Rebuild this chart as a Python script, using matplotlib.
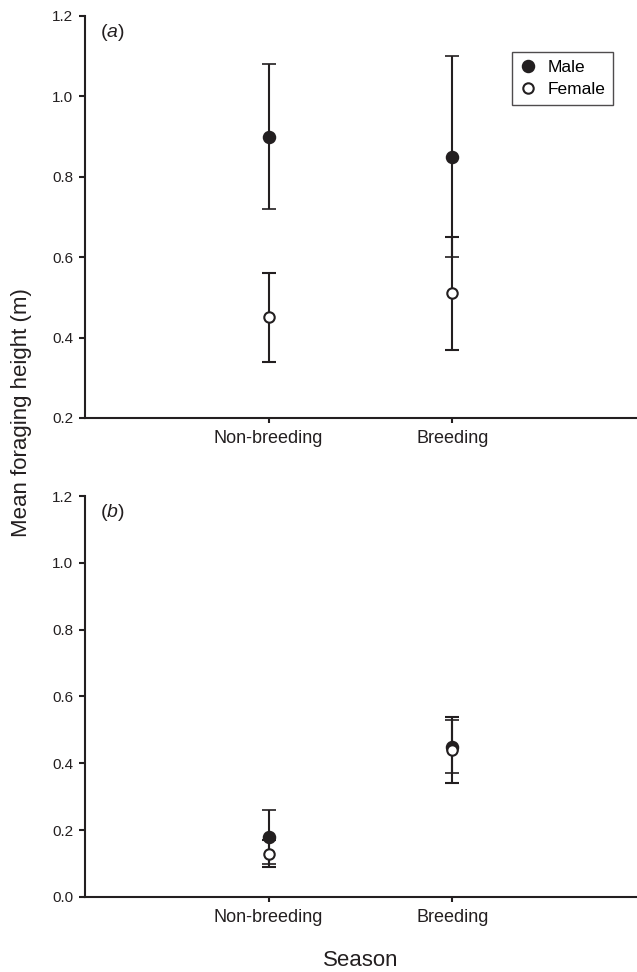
import matplotlib
matplotlib.use('Agg')
import matplotlib.pyplot as plt

plt.rcParams['font.family'] = ['Liberation Sans', 'DejaVu Sans']
plt.rcParams['mathtext.fontset'] = 'custom'
plt.rcParams['mathtext.rm'] = 'Liberation Sans'
plt.rcParams['mathtext.it'] = 'Liberation Sans:italic'

ink = '#231f20'

seasons = ['Non-breeding', 'Breeding']
xpos = [1, 2]

# panel (a)
a_male_mean = [0.90, 0.85]
a_male_se = [0.18, 0.25]
a_female_mean = [0.45, 0.51]
a_female_se = [0.11, 0.14]

# panel (b)
b_male_mean = [0.18, 0.45]
b_male_se = [0.08, 0.08]
b_female_mean = [0.13, 0.44]
b_female_se = [0.04, 0.10]

a_yticks = [0.2, 0.4, 0.6, 0.8, 1.0, 1.2]
b_yticks = [0.0, 0.2, 0.4, 0.6, 0.8, 1.0, 1.2]

fig = plt.figure(figsize=(6.37, 9.72), dpi=100)
ax1 = fig.add_axes([0.1334, 0.5700, 0.865, 0.4136])
ax2 = fig.add_axes([0.1334, 0.0772, 0.865, 0.4125])


def draw_panel(ax, male_mean, male_se, female_mean, female_se, yticks, tag):
    ax.errorbar(xpos, male_mean, yerr=male_se, fmt='o', color=ink,
                mfc=ink, mec=ink, ms=8.5, mew=1.2, capsize=5,
                elinewidth=1.5, capthick=1.5, label='Male', zorder=3)
    ax.errorbar(xpos, female_mean, yerr=female_se, fmt='o', color=ink,
                mfc='white', mec=ink, ms=7.5, mew=1.5, capsize=5,
                elinewidth=1.5, capthick=1.5, label='Female', zorder=4)
    ax.set_xlim(0, 3)
    ax.set_ylim(yticks[0], yticks[-1])
    ax.set_yticks(yticks)
    ax.set_yticklabels(['%.1f' % v for v in yticks], fontsize=11)
    ax.set_xticks(xpos)
    ax.set_xticklabels(seasons, fontsize=13)
    for s in ['top', 'right']:
        ax.spines[s].set_visible(False)
    for s in ['left', 'bottom']:
        ax.spines[s].set_linewidth(1.5)
        ax.spines[s].set_color(ink)
    ax.tick_params(axis='y', direction='out', length=4.3, width=1.5,
                   color=ink, pad=4, labelcolor=ink)
    ax.tick_params(axis='x', direction='out', length=3.5, width=1.5,
                   color=ink, pad=5, labelcolor=ink)
    ax.text(0.027, 0.958, r'($\mathit{' + tag + '}$)', transform=ax.transAxes,
            ha='left', va='center', fontsize=14, color=ink)


draw_panel(ax1, a_male_mean, a_male_se, a_female_mean, a_female_se, a_yticks, 'a')
draw_panel(ax2, b_male_mean, b_male_se, b_female_mean, b_female_se, b_yticks, 'b')

h, l = ax1.get_legend_handles_labels()
h = [x[0] for x in h]  # markers only, no bars in the legend
leg = ax1.legend(h, l, loc='upper right', bbox_to_anchor=(0.958, 0.910),
                 borderaxespad=0, fontsize=12.5, frameon=True, fancybox=False,
                 handlelength=1.0, handletextpad=0.6, borderpad=0.45,
                 labelspacing=0.4)
leg.get_frame().set_edgecolor(ink)
leg.get_frame().set_linewidth(1.0)

fig.text(0.033, 0.5756, 'Mean foraging height (m)', rotation=90,
         ha='center', va='center', fontsize=16, color=ink)
fig.text(0.566, 0.0123, 'Season', ha='center', va='center', fontsize=16, color=ink)

fig.savefig('out.png', dpi=100)
